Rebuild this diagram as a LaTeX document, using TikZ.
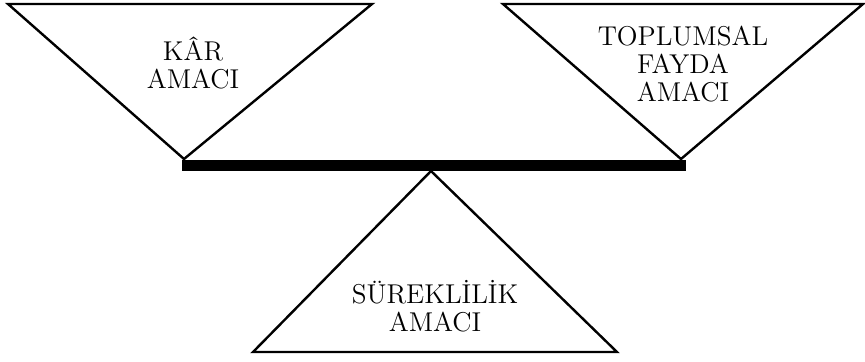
\documentclass[tikz,border=0pt]{standalone}
\usepackage{fontspec}
\usepackage{tikz}

\begin{document}
\begin{tikzpicture}[
  x=0.5pt, y=-0.5pt,
  pan/.style={draw, line width=1.2pt, line join=miter},
  beam/.style={fill=black},
  goal/.style={align=center, inner sep=0pt, font=\fontsize{13.6}{13.8}\selectfont}
]
\useasboundingbox (0,0) rectangle (865,361);

% pans of the balance
\coordinate (karL) at (8,4);
\coordinate (karR) at (372,4);
\coordinate (karTip) at (184,159);
\coordinate (faydaL) at (503,4);
\coordinate (faydaR) at (863,4);
\coordinate (faydaTip) at (681,159);
\draw[pan] (karL) -- (karR) -- (karTip) -- cycle;
\draw[pan] (faydaL) -- (faydaR) -- (faydaTip) -- cycle;

% beam
\fill[beam] (182,160) rectangle (686,171);

% support
\coordinate (pivot) at (431,171);
\coordinate (baseL) at (253,352);
\coordinate (baseR) at (617,352);
\draw[pan] (pivot) -- (baseR) -- (baseL) -- cycle;

\node[goal] (kar) at (193,63) {KÂR\\AMACI};
\node[goal] (fayda) at (683,64) {TOPLUMSAL\\FAYDA\\AMACI};
\node[goal] (sureklilik) at (435,306) {SÜREKLİLİK\\AMACI};
\end{tikzpicture}
\end{document}
